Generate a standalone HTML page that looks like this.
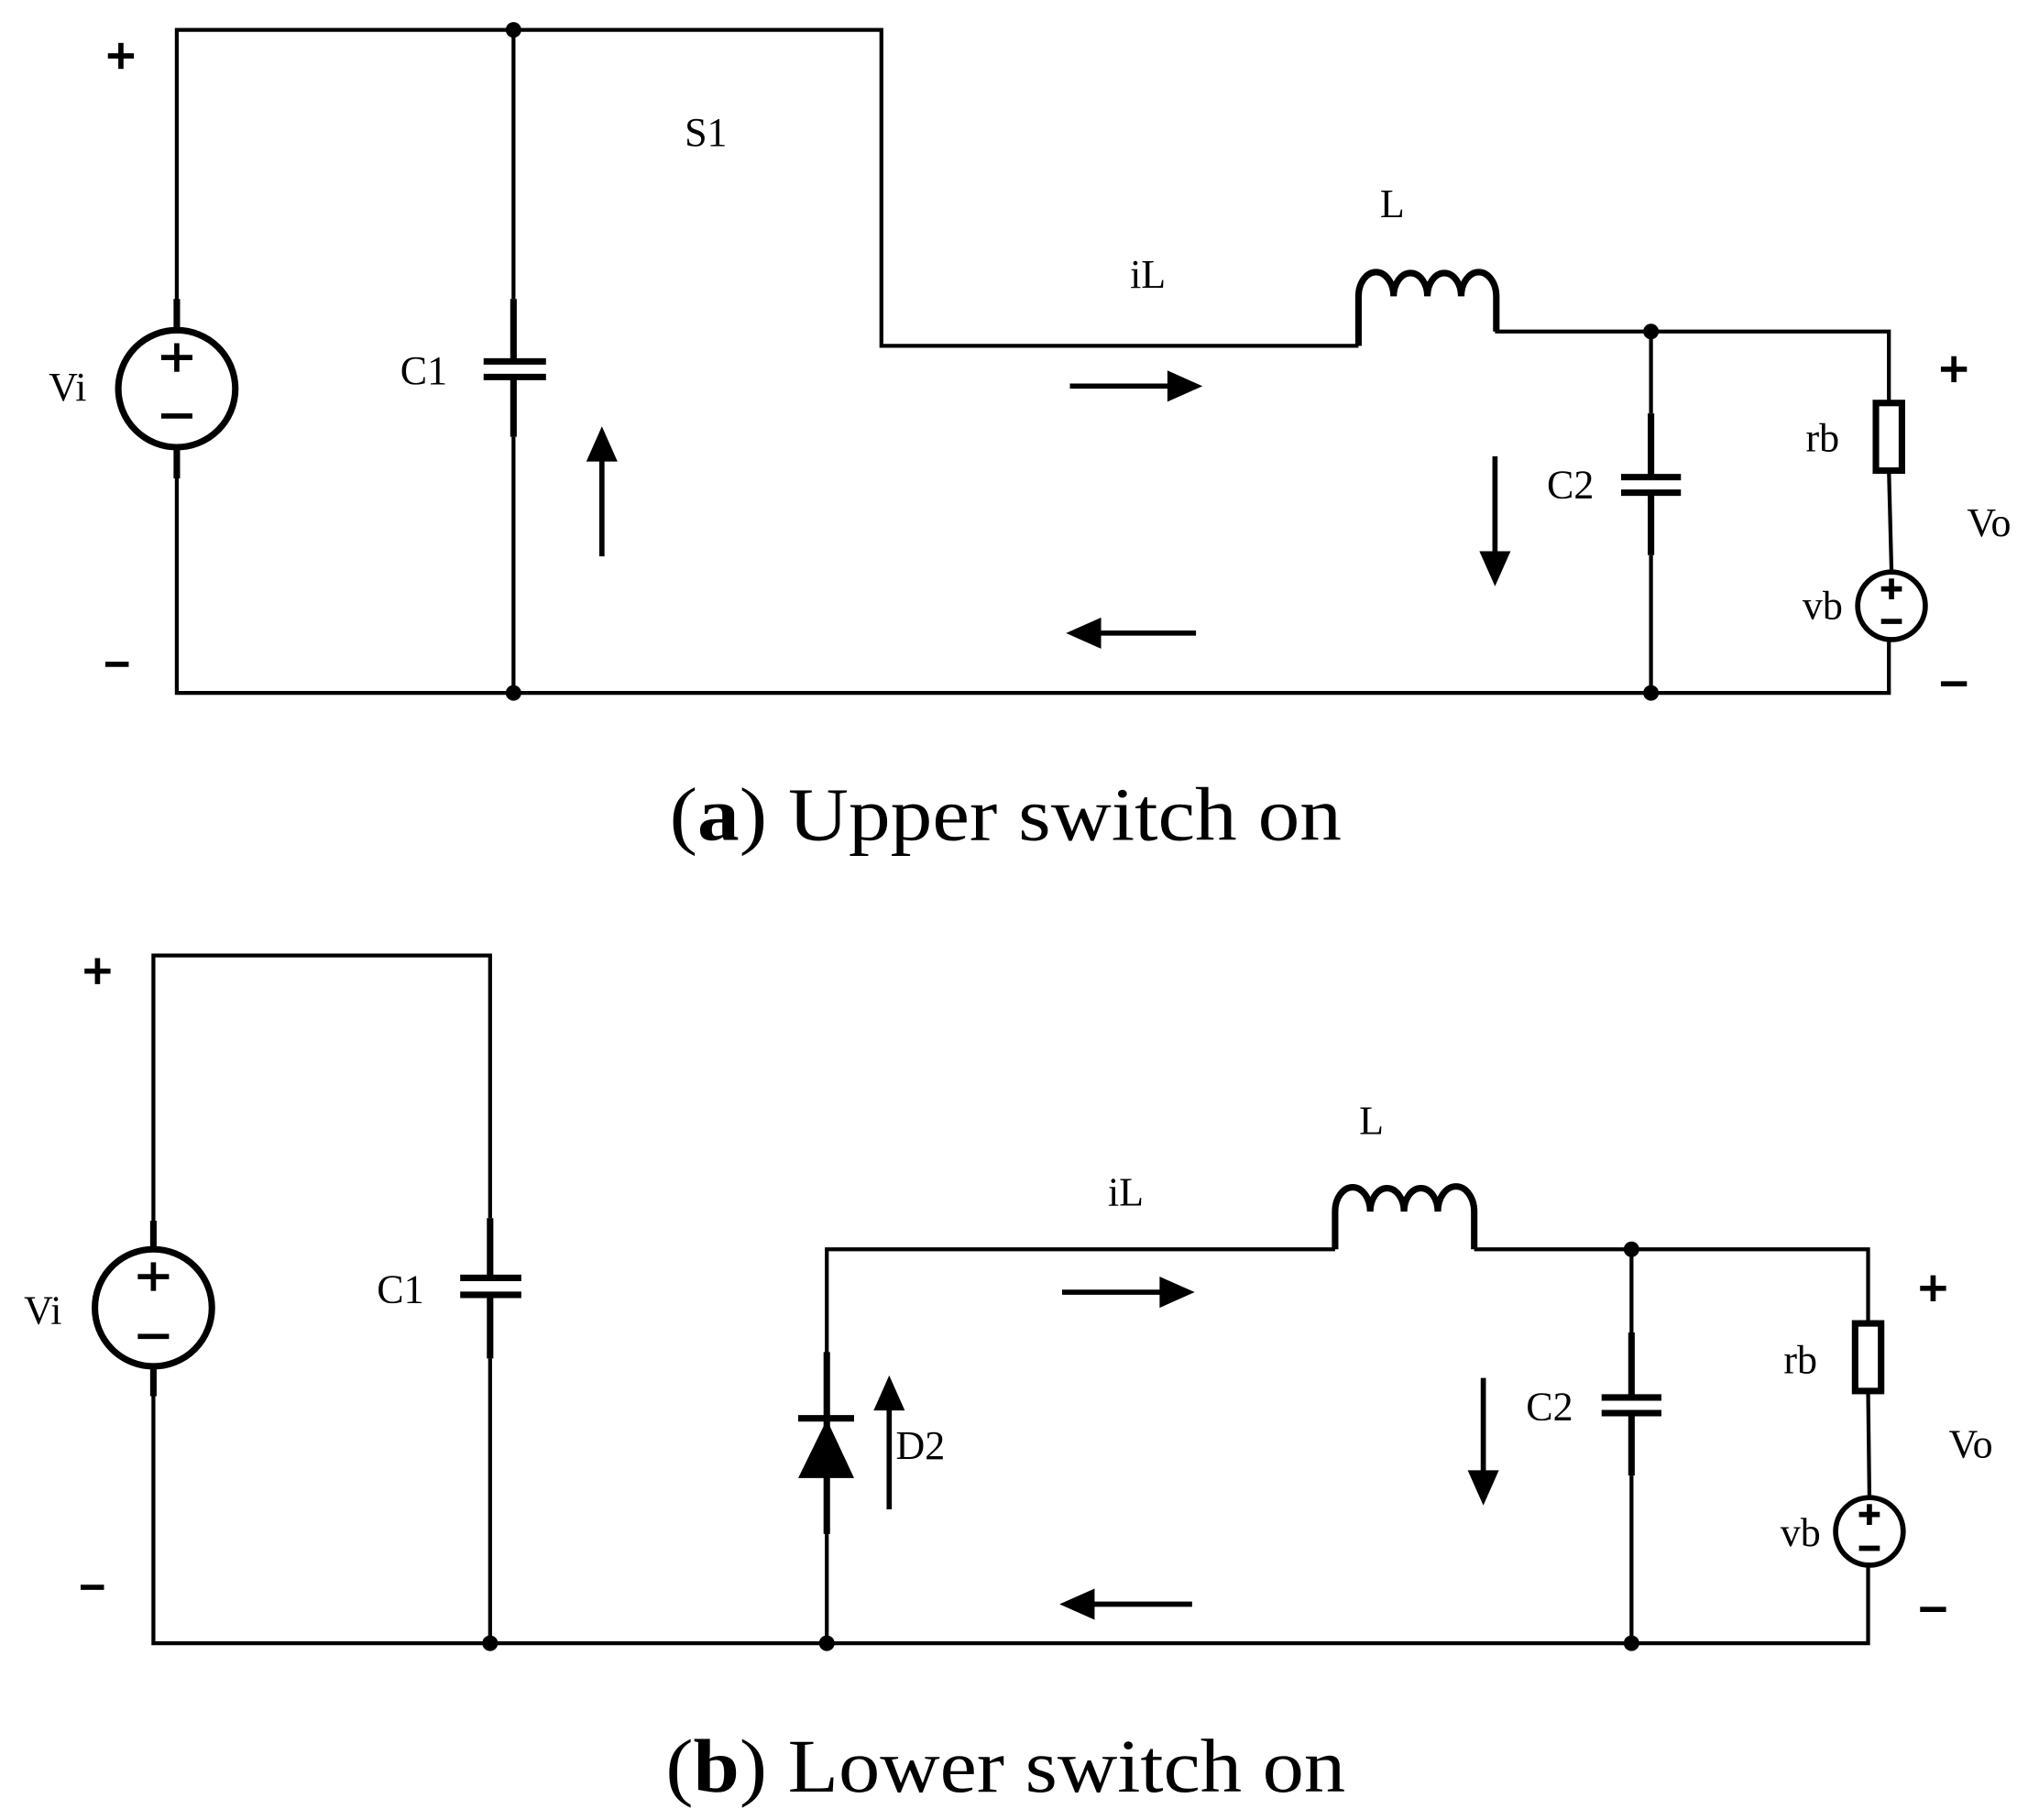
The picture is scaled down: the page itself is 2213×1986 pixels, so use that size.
<!DOCTYPE html>
<html><head><meta charset="utf-8"><style>html,body{margin:0;padding:0;background:#fff}svg{display:block}</style></head>
<body>
<svg width="2213" height="1986" viewBox="0 0 1560 1400" preserveAspectRatio="none" xmlns="http://www.w3.org/2000/svg">
<g fill="none" stroke="#000" stroke-width="3" stroke-linejoin="miter">
<polyline points="136,231 136,23 678,23 678,266 1045,266"/>
<polyline points="136,367 136,533 1453,533 1453,492"/>
<line x1="395" y1="23" x2="395" y2="230"/>
<line x1="395" y1="336" x2="395" y2="533"/>
<polyline points="1150,255 1453,255 1453,310"/>
<line x1="1453" y1="362" x2="1455" y2="439"/>
<line x1="1270" y1="255" x2="1270" y2="318"/>
<line x1="1270" y1="427" x2="1270" y2="533"/>
<polyline points="118,940 118,735 377,735 377,937"/>
<polyline points="118,1073 118,1264 1437,1264 1437,1205"/>
<line x1="377" y1="1045" x2="377" y2="1264"/>
<polyline points="636,1264 636,961 1027,961"/>
<polyline points="1134,961 1437,961 1437,1018"/>
<line x1="1437" y1="1070" x2="1438" y2="1151"/>
<line x1="1255" y1="961" x2="1255" y2="1025"/>
<line x1="1255" y1="1135" x2="1255" y2="1264"/>
</g>
<g fill="none" stroke="#000" stroke-width="5">
<circle cx="136" cy="299" r="45"/>
<line x1="136" y1="230" x2="136" y2="254"/><line x1="136" y1="344" x2="136" y2="368"/>
<line x1="395" y1="230" x2="395" y2="278"/><line x1="395" y1="291" x2="395" y2="336"/>
<line x1="372" y1="278" x2="420" y2="278"/><line x1="372" y1="290" x2="420" y2="290"/>
<path d="M1045,266 V228 a13,18 0 0 1 27,0 a13,18 0 0 1 26,0 a13,18 0 0 1 26,0 a13,18 0 0 1 27,0 V255"/>
<line x1="1270" y1="318" x2="1270" y2="367"/><line x1="1270" y1="379" x2="1270" y2="427"/>
<line x1="1247" y1="367" x2="1293" y2="367"/><line x1="1247" y1="379" x2="1293" y2="379"/>
<rect x="1443" y="310" width="20" height="52"/>
<circle cx="1455" cy="466" r="26" stroke-width="4"/>
<circle cx="118" cy="1006" r="45"/>
<line x1="118" y1="939" x2="118" y2="962"/><line x1="118" y1="1050" x2="118" y2="1074"/>
<line x1="377" y1="937" x2="377" y2="983"/><line x1="377" y1="996" x2="377" y2="1045"/>
<line x1="354" y1="983" x2="401" y2="983"/><line x1="354" y1="996" x2="401" y2="996"/>
<line x1="636" y1="1040" x2="636" y2="1180"/>
<line x1="614" y1="1091" x2="657" y2="1091"/>
<path d="M1027,961 V932 a13,18 0 0 1 27,0 a13,18 0 0 1 26,0 a13,18 0 0 1 26,0 a13,18 0 0 1 28,0 V961"/>
<line x1="1255" y1="1025" x2="1255" y2="1075"/><line x1="1255" y1="1087" x2="1255" y2="1135"/>
<line x1="1232" y1="1075" x2="1278" y2="1075"/><line x1="1232" y1="1087" x2="1278" y2="1087"/>
<rect x="1427" y="1018" width="20" height="52"/>
<circle cx="1438" cy="1178" r="26" stroke-width="4"/>
</g>
<g stroke="#000" stroke-width="4">
<line x1="136" y1="264" x2="136" y2="286"/><line x1="124" y1="275" x2="148" y2="275"/><line x1="124" y1="320" x2="148" y2="320"/>
<line x1="1455" y1="445" x2="1455" y2="461"/><line x1="1447" y1="453" x2="1463" y2="453"/><line x1="1447" y1="478" x2="1463" y2="478"/>
<line x1="118" y1="971" x2="118" y2="993"/><line x1="106" y1="982" x2="130" y2="982"/><line x1="106" y1="1028" x2="130" y2="1028"/>
<line x1="1438" y1="1157" x2="1438" y2="1173"/><line x1="1430" y1="1165" x2="1446" y2="1165"/><line x1="1430" y1="1191" x2="1446" y2="1191"/>
<line x1="463" y1="428" x2="463" y2="350"/>
<line x1="823" y1="297" x2="900" y2="297"/>
<line x1="1150" y1="351" x2="1150" y2="430"/>
<line x1="920" y1="487" x2="843" y2="487"/>
<line x1="684" y1="1161" x2="684" y2="1082"/>
<line x1="817" y1="994" x2="895" y2="994"/>
<line x1="1141" y1="1060" x2="1141" y2="1137"/>
<line x1="917" y1="1234" x2="840" y2="1234"/>
<line x1="83" y1="43" x2="103" y2="43"/><line x1="93" y1="33" x2="93" y2="53"/>
<line x1="81" y1="511" x2="99" y2="511"/>
<line x1="1493" y1="284" x2="1513" y2="284"/><line x1="1503" y1="274" x2="1503" y2="294"/>
<line x1="1493" y1="526" x2="1513" y2="526"/>
<line x1="65" y1="747" x2="85" y2="747"/><line x1="75" y1="737" x2="75" y2="757"/>
<line x1="62" y1="1221" x2="80" y2="1221"/>
<line x1="1477" y1="991" x2="1497" y2="991"/><line x1="1487" y1="981" x2="1487" y2="1001"/>
<line x1="1477" y1="1238" x2="1497" y2="1238"/>
</g>
<g fill="#000">
<circle cx="395" cy="23" r="6"/><circle cx="395" cy="533" r="6"/>
<circle cx="1270" cy="255" r="6"/><circle cx="1270" cy="533" r="6"/>
<circle cx="377" cy="1264" r="6"/><circle cx="636" cy="1264" r="6"/>
<circle cx="1255" cy="961" r="6"/><circle cx="1255" cy="1264" r="6"/>
<polygon points="463,328 451,355 475,355"/>
<polygon points="925,297 898,285 898,309"/>
<polygon points="1150,451 1138,424 1162,424"/>
<polygon points="820,487 847,475 847,499"/>
<polygon points="636,1092 614,1137 657,1137"/>
<polygon points="684,1058 672,1085 696,1085"/>
<polygon points="919,994 892,982 892,1006"/>
<polygon points="1141,1158 1129,1131 1153,1131"/>
<polygon points="815,1234 842,1222 842,1246"/>
</g>
<g font-family="Liberation Serif, serif" font-size="31" fill="#000" text-anchor="middle" dominant-baseline="central">
<text x="52" y="298">Vi</text><text x="326" y="285">C1</text><text x="543" y="102">S1</text>
<text x="1071" y="157">L</text><text x="883" y="211">iL</text><text x="1208" y="373">C2</text>
<text x="1402" y="337">rb</text><text x="1530" y="402">Vo</text><text x="1402" y="466">vb</text>
<text x="33" y="1008">Vi</text><text x="308" y="992">C1</text><text x="866" y="917">iL</text>
<text x="1055" y="862">L</text><text x="708" y="1112">D2</text><text x="1192" y="1082">C2</text>
<text x="1385" y="1046">rb</text><text x="1516" y="1111">Vo</text><text x="1385" y="1179">vb</text>
</g>
<g font-family="Liberation Serif, serif" font-size="58" fill="#000">
<text x="515" y="646" textLength="517" lengthAdjust="spacingAndGlyphs">(<tspan font-weight="bold">a</tspan>) Upper switch on</text>
<text x="512" y="1378" textLength="523" lengthAdjust="spacingAndGlyphs">(<tspan font-weight="bold">b</tspan>) Lower switch on</text>
</g>
</svg>
</body></html>
